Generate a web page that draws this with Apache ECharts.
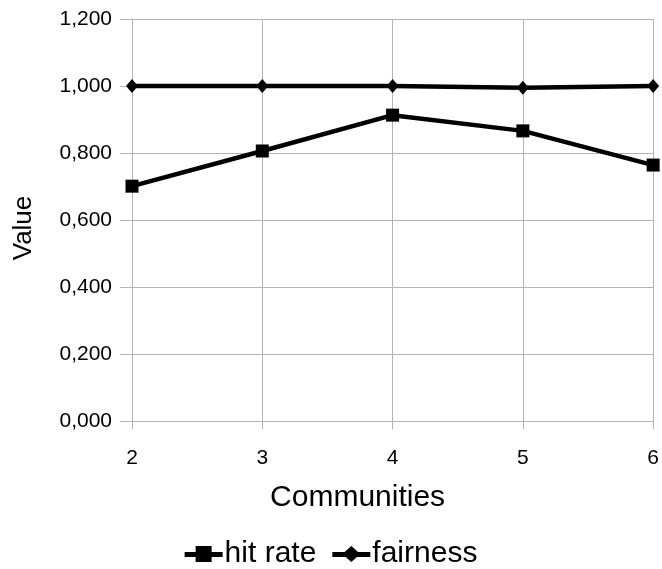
<!DOCTYPE html>
<html><head><meta charset="utf-8">
<script src="https://cdn.jsdelivr.net/npm/echarts@6/dist/echarts.min.js"></script>
<style>html,body{margin:0;padding:0;background:#fff}#c{width:662px;height:569px}</style>
</head><body><div id="c"></div>
<script>
const categories = ['2','3','4','5','6'];
const hitRate = [0.701, 0.806, 0.913, 0.866, 0.764];
const fairness = [1.0, 1.0, 1.0, 0.995, 1.0];
const yTicks = [0, 0.2, 0.4, 0.6, 0.8, 1.0, 1.2];

const chart = echarts.init(document.getElementById('c'));
const font = 'Liberation Sans, Arial, sans-serif';
const iconSquare = 'path://M0,6H38V11H0Z M11,0H27V16H11Z';
const iconDiamond = 'path://M0,6H38V11H0Z M19,0L28,8L19,16L10,8Z';
chart.setOption({
  animation: false,
  backgroundColor: '#fff',
  grid: {left: 132, right: 8, top: 19, bottom: 148},
  legend: {
    top: 534, left: 'center', itemGap: 16, itemWidth: 38, itemHeight: 16,
    textStyle: {fontFamily: font, fontSize: 30, color: '#000', padding: [0,0,0,-3]},
    data: [
      {name: 'hit rate', icon: iconSquare, itemStyle: {color: '#000'}},
      {name: 'fairness', icon: iconDiamond, itemStyle: {color: '#000'}}
    ]
  },
  xAxis: {
    type: 'category', data: categories, boundaryGap: false,
    name: 'Communities', nameLocation: 'middle', nameGap: 62,
    nameTextStyle: {fontFamily: font, fontSize: 30, color: '#000', padding: [0,70,0,0]},
    axisLine: {lineStyle: {color: '#b3b3b3', width: 1}},
    axisTick: {show: true, length: 8, lineStyle: {color: '#b3b3b3'}},
    axisLabel: {fontFamily: font, fontSize: 21, color: '#000', margin: 27},
    splitLine: {show: true, lineStyle: {color: '#b3b3b3', width: 1}}
  },
  yAxis: {
    type: 'value', min: yTicks[0], max: yTicks[yTicks.length-1], interval: 0.2,
    name: 'Value', nameLocation: 'middle', nameGap: 95,
    nameTextStyle: {fontFamily: font, fontSize: 26, color: '#000', padding: [0,16,0,0]},
    axisLine: {show: true, lineStyle: {color: '#b3b3b3', width: 1}},
    axisTick: {show: true, length: 12, lineStyle: {color: '#b3b3b3'}},
    axisLabel: {fontFamily: font, fontSize: 21, color: '#000', margin: 20,
      formatter: v => v.toFixed(3).replace('.', ',')},
    splitLine: {show: true, lineStyle: {color: '#b3b3b3', width: 1}}
  },
  series: [
    {name: 'hit rate', type: 'line', data: hitRate, symbol: 'rect', symbolSize: 13,
     lineStyle: {color: '#000', width: 4.5}, itemStyle: {color: '#000'}},
    {name: 'fairness', type: 'line', data: fairness, symbol: 'diamond', symbolSize: [12, 14],
     lineStyle: {color: '#000', width: 4.5}, itemStyle: {color: '#000'}}
  ]
});
</script></body></html>
